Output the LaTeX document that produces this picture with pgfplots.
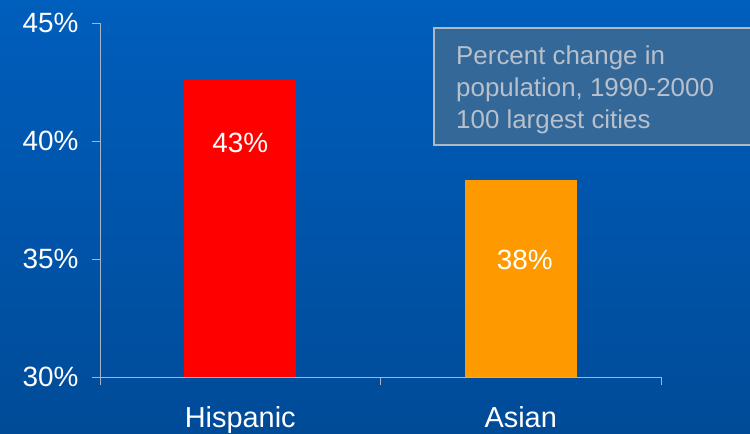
\documentclass[border=0pt]{standalone}
\usepackage{pgfplots}
\pgfplotsset{compat=1.18}
\usepackage{fontspec}
\setmainfont{Liberation Sans}
\definecolor{bgtop}{RGB}{0,94,188}
\definecolor{bgbot}{RGB}{0,75,152}
\definecolor{axgray}{RGB}{168,180,200}
\definecolor{boxfill}{RGB}{52,104,152}
\definecolor{boxdraw}{RGB}{176,184,194}
\definecolor{boxtext}{RGB}{184,192,204}
\definecolor{asianorange}{RGB}{255,153,0}
\begin{document}
\begin{tikzpicture}
\shade[top color=bgtop, bottom color=bgbot] (0,0) rectangle (750bp,434bp);
\begin{axis}[
  at={(100bp,57bp)}, anchor=south west,
  scale only axis, width=561bp, height=354bp,
  xmin=-0.5, xmax=1.5, ymin=30, ymax=45,
  axis x line*=bottom, axis y line*=left,
  axis line style={axgray, line width=0.8bp, -},
  xtick={-0.5,0.5,1.5}, xticklabels={},
  extra x ticks={0,1}, extra x tick labels={Hispanic,Asian},
  extra x tick style={major tick length=0pt, tick style={draw=none},
    xticklabel style={font=\fontsize{29}{33}\selectfont, text=white, anchor=north, yshift=-26bp}},
  ytick={30,35,40,45},
  yticklabel={\pgfmathprintnumber{\tick}\%},
  /pgf/number format/assume math mode=true,
  tick style={axgray, line width=0.8bp},
  tick align=outside, major tick length=8bp,
  yticklabel style={font=\fontsize{28}{32}\selectfont, text=white, xshift=-10bp},
  clip=true,
]
\addplot[ybar, bar width=112bp, fill=red, draw=none] coordinates {(0,42.6)};
\addplot[ybar, bar width=112bp, fill=asianorange, draw=none] coordinates {(1,38.35)};
\node[text=white, font=\fontsize{28}{32}\selectfont] at (axis cs:0,39.9) {43\%};
\node[text=white, font=\fontsize{28}{32}\selectfont, xshift=4bp] at (axis cs:1,34.95) {38\%};
\end{axis}
\fill[boxfill, draw=boxdraw, line width=1.4bp] (434bp,289bp) rectangle (770bp,406bp);
\begin{scope}[every node/.style={anchor=base west, inner sep=0pt, text=boxtext, font=\fontsize{26}{31}\selectfont}]
\node at (456bp,369bp) {Percent change in};
\node at (456bp,337.3bp) {population, 1990-2000};
\node at (456bp,305.7bp) {100 largest cities};
\end{scope}
\pgfresetboundingbox
\useasboundingbox (0,0) rectangle (750bp,434bp);
\end{tikzpicture}
\end{document}
